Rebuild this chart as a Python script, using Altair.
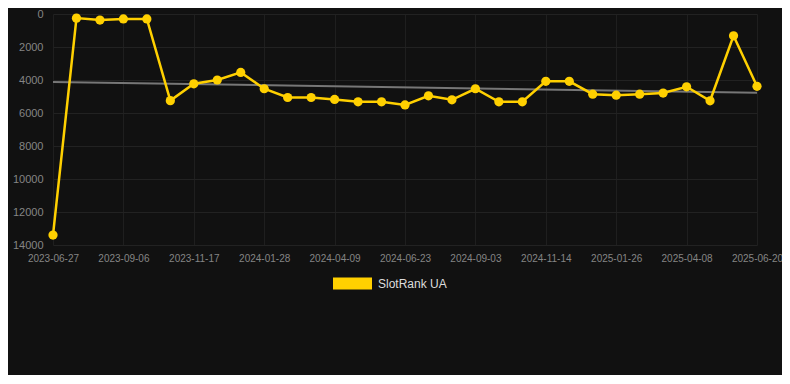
import altair as alt
import pandas as pd

dates = [
    "2023-06-27", "2023-07-21", "2023-08-14", "2023-09-06", "2023-09-30", "2023-10-24",
    "2023-11-17", "2023-12-11", "2024-01-04", "2024-01-28", "2024-02-21", "2024-03-16",
    "2024-04-09", "2024-05-04", "2024-05-29", "2024-06-23", "2024-07-17", "2024-08-10",
    "2024-09-03", "2024-09-27", "2024-10-21", "2024-11-14", "2024-12-08", "2025-01-01",
    "2025-01-26", "2025-02-19", "2025-03-15", "2025-04-08", "2025-05-02", "2025-05-26",
    "2025-06-20",
]
ranks = [
    13400, 250, 370, 300, 300, 5250,
    4230, 4000, 3540, 4530, 5060, 5060,
    5180, 5320, 5320, 5510, 4960, 5200,
    4530, 5320, 5320, 4080, 4080, 4860,
    4920, 4860, 4790, 4410, 5260, 1320,
    4380,
]
tick_labels = [
    "2023-06-27", "2023-09-06", "2023-11-17", "2024-01-28", "2024-04-09", "2024-06-23",
    "2024-09-03", "2024-11-14", "2025-01-26", "2025-04-08", "2025-06-20",
]
trend_dates = ["2023-06-27", "2025-06-20"]
trend_values = [4120, 4770]
y_ticks = [0, 2000, 4000, 6000, 8000, 10000, 12000, 14000]
series_name = "SlotRank UA"

df = pd.DataFrame({"date": dates, "rank": ranks, "series": series_name})
tdf = pd.DataFrame({"date": trend_dates, "rank": trend_values})

YELLOW = "#FFD000"

x_enc = alt.X(
    "date:O",
    sort=dates,
    scale=alt.Scale(type="point", padding=0, domain=dates),
    axis=alt.Axis(
        values=tick_labels, labelAngle=0, title=None, labelPadding=8,
        labelFontSize=10, labelColor="#858585", grid=True, gridColor="#1f1f1f",
    ),
)
y_enc = alt.Y(
    "rank:Q",
    scale=alt.Scale(domain=[0, 14000], reverse=True, nice=False, zero=False),
    axis=alt.Axis(
        values=y_ticks, title=None, labelPadding=10, labelFontSize=11, format="d",
        labelColor="#858585", grid=True, gridColor="#222222",
    ),
)

trend = alt.Chart(tdf).mark_line(color="#777777", strokeWidth=2).encode(x=x_enc, y=y_enc)
line = alt.Chart(df).mark_line(color=YELLOW, strokeWidth=2.5).encode(x=x_enc, y=y_enc)
points = alt.Chart(df).mark_circle(size=85, opacity=1).encode(
    x=x_enc,
    y=y_enc,
    color=alt.Color(
        "series:N",
        scale=alt.Scale(domain=[series_name], range=[YELLOW]),
        legend=alt.Legend(
            title=None, orient="none", legendX=280, legendY=250,
            symbolType="M-1,-0.31H1V0.31H-1Z", symbolSize=1521,
            symbolStrokeWidth=0, symbolFillColor=YELLOW, symbolOpacity=1,
            labelFontSize=12, labelColor="#dddddd", labelOffset=6,
            labelFont="Liberation Sans",
        ),
    ),
)

chart = (
    alt.layer(trend, line, points)
    .properties(
        width=704, height=231, background="#111111",
        padding={"left": 45, "top": 6, "right": 25, "bottom": 130},
        autosize=alt.AutoSizeParams(type="none"),
    )
    .configure_view(stroke=None)
    .configure_axis(domain=False, ticks=False, labelFont="Liberation Sans")
)

chart.save("out.html", embed_options={"renderer": "svg", "actions": False})
